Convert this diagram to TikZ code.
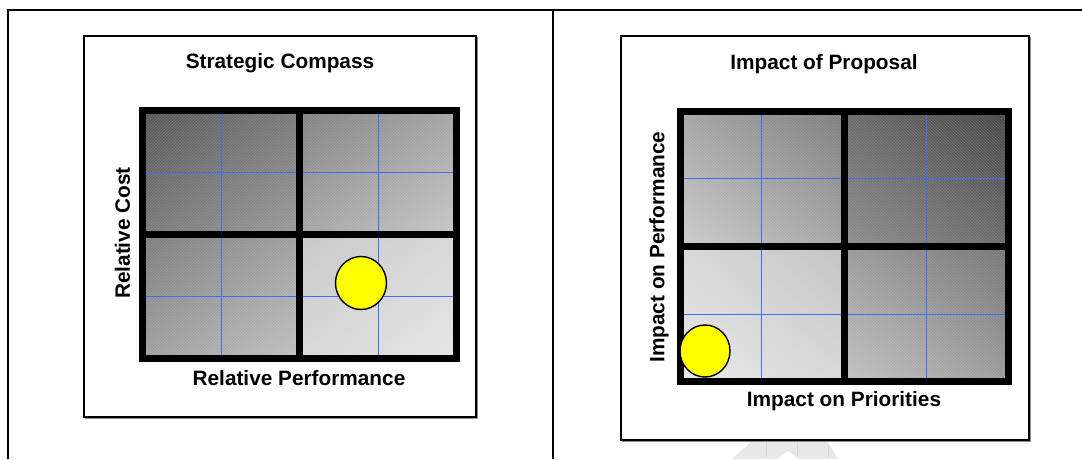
\documentclass[tikz,border=0pt]{standalone}
\usepackage{fontspec}
\setmainfont{Liberation Sans}
\usetikzlibrary{patterns,shadings}
\definecolor{gridblue}{HTML}{3F6BFF}
\definecolor{sunyellow}{HTML}{FFFF00}
\tikzset{
  x=1pt, y=1pt,
  frameline/.style={line width=2.6pt, black},
  panelbox/.style={draw=black, line width=1.1pt, fill=white},
  panelshadow/.style={draw=black!45, line width=1pt},
  thickgrid/.style={line width=7pt, black, line cap=rect},
  blueline/.style={gridblue, line width=0.9pt},
  lbl/.style={font=\fontsize{20.8}{24}\selectfont\bfseries, inner sep=0pt},
  dot/.style={draw=black, line width=1.4pt, fill=sunyellow},
  hatchL/.style={pattern=north east lines, pattern color=white, opacity=0.16},
  hatchR/.style={pattern=north west lines, pattern color=white, opacity=0.16},
}
\begin{document}
\begin{tikzpicture}
\useasboundingbox (0,0) rectangle (1082,459);
\fill[white] (0,0) rectangle (1082,459);

% outer frame
\draw[frameline] (8,0) -- (8,449) -- (1082,449);
\draw[frameline] (553,449) -- (553,0);

% watermark fragment
\fill[black!9] (732,0) -- (752,18) -- (827,18) -- (838,0) -- cycle;
\draw[black!16, line width=0.8pt] (766,0) -- (766,18) (797,0) -- (797,18) (828,0) -- (828,14);
\fill[white] (777,0) -- (788,8) -- (799,0) -- cycle;

%% ---------------- left panel ----------------
\draw[panelshadow] (85,41) -- (477,41) -- (477,422);
\draw[panelbox] (84,42) rectangle (476,423);

% cells (upper left dark, lower right light)
\shade[upper left=black!67, lower right=black!40, upper right=black!53, lower left=black!53] (142.5,349) rectangle (299.5,224.5);
\shade[upper left=black!50, lower right=black!22, upper right=black!36, lower left=black!36] (299.5,349) rectangle (456.5,224.5);
\shade[upper left=black!52, lower right=black!25, upper right=black!38, lower left=black!38] (142.5,224.5) rectangle (299.5,100.5);
\shade[upper left=black!22, lower right=black!10, upper right=black!16, lower left=black!16] (299.5,224.5) rectangle (456.5,100.5);
\fill[hatchL] (142.5,100.5) rectangle (456.5,349);

% blue guide lines
\draw[blueline] (221,100.5) -- (221,349) (378,100.5) -- (378,349);
\draw[blueline] (142.5,287) -- (456.5,287) (142.5,163) -- (456.5,163);

% thick grid
\draw[thickgrid] (142.5,100.5) rectangle (456.5,349);
\draw[thickgrid] (299.5,100.5) -- (299.5,349);
\draw[thickgrid] (142.5,224.5) -- (456.5,224.5);

% marker
\draw[dot] (361,176) ellipse [x radius=25.5, y radius=26.5];

% labels
\node[lbl] (titleL) at (280,396) {Strategic Compass};
\node[lbl] (xL) at (299,81) {Relative Performance};
\node[lbl, rotate=90] (yL) at (122.5,226) {Relative Cost};

%% ---------------- right panel ----------------
\draw[panelshadow] (622,18) -- (1030,18) -- (1030,422);
\draw[panelbox] (621,19) rectangle (1029,423);

% cells (upper right dark, lower left light)
\shade[upper right=black!52, lower left=black!20, upper left=black!36, lower right=black!36] (680,348) rectangle (844,212.5);
\shade[upper right=black!73, lower left=black!45, upper left=black!59, lower right=black!59] (844,348) rectangle (1008,212.5);
\shade[upper right=black!24, lower left=black!9, upper left=black!16, lower right=black!16] (680,212.5) rectangle (844,77.5);
\shade[upper right=black!55, lower left=black!24, upper left=black!40, lower right=black!40] (844,212.5) rectangle (1008,77.5);
\fill[hatchR] (680,77.5) rectangle (1008,348);

% blue guide lines
\draw[blueline] (761,77.5) -- (761,348) (926.5,77.5) -- (926.5,348);
\draw[blueline] (680,281) -- (1008,281) (680,145) -- (1008,145);

% thick grid
\draw[thickgrid] (680,77.5) rectangle (1008,348);
\draw[thickgrid] (844,77.5) -- (844,348);
\draw[thickgrid] (680,212.5) -- (1008,212.5);

% marker
\draw[dot] (705,108) ellipse [x radius=25, y radius=26];

% labels
\node[lbl] (titleR) at (824,395) {Impact of Proposal};
\node[lbl] (xR) at (844,58) {Impact on Priorities};
\node[lbl, rotate=90] (yR) at (659,212) {Impact on Performance};
\end{tikzpicture}
\end{document}
